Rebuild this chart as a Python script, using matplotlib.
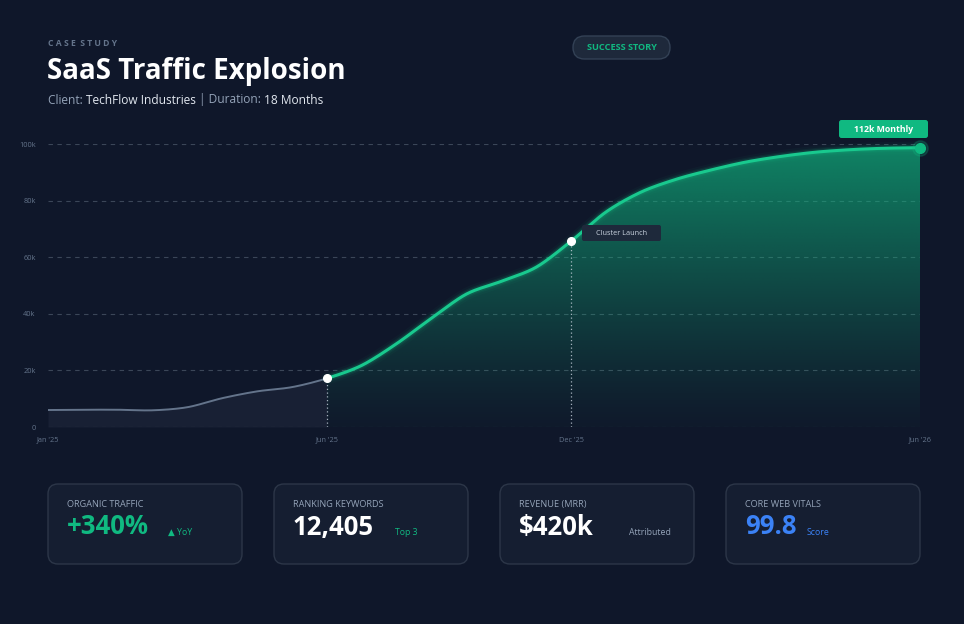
import numpy as np
import matplotlib
matplotlib.use("Agg")
import matplotlib.pyplot as plt
from matplotlib.patches import FancyBboxPatch, Polygon

plt.rcParams['font.family'] = ['Open Sans', 'DejaVu Sans']

# ---------------- data ----------------
# traffic (thousands of monthly visits) at evenly spaced points along the timeline
traffic_k = [6.0, 6.1, 6.1, 5.9, 7.0, 10.2, 12.6, 14.1, 17.2, 21.8, 29.5, 38.5,
             47.0, 51.5, 56.5, 65.7, 76.0, 83.0, 87.5, 90.8, 93.6, 95.6, 97.1,
             98.0, 98.5, 98.7]
launch_idx = 8          # start of campaign (Jun '25)
cluster_idx = 15        # "Cluster Launch" (Dec '25)
tick_pos = [0, 8, 15, 25]
tick_labels = ["Jan '25", "Jun '25", "Dec '25", "Jun '26"]
y_ticks = [0, 20, 40, 60, 80, 100]
y_tick_labels = ["0", "20k", "40k", "60k", "80k", "100k"]

card_labels = ["ORGANIC TRAFFIC", "RANKING KEYWORDS", "REVENUE (MRR)", "CORE WEB VITALS"]
card_values = ["+340%", "12,405", "$420k", "99.8"]
card_notes = ["▲ YoY", "Top 3", "Attributed", "Score"]

# ---------------- style ----------------
BG = "#0f172a"
GREEN = "#10b981"
W, H = 964, 624

fig = plt.figure(figsize=(W / 100, H / 100), dpi=100, facecolor=BG)

# chart axes (pixel box: x 48..920, y 144..427)
ax = fig.add_axes([48 / W, (H - 427) / H, (920 - 48) / W, (427 - 144) / H])
ax.set_facecolor("none")
n = len(traffic_k)
x = np.arange(n, dtype=float)
y = np.array(traffic_k)


def smooth(xs, ys, k=24, tension=0.45):
    # Catmull-Rom style rendering of the polyline (display smoothing only)
    px, py = [], []
    m = len(xs)
    for i in range(m - 1):
        p0 = (xs[max(i - 1, 0)], ys[max(i - 1, 0)])
        p1 = (xs[i], ys[i])
        p2 = (xs[i + 1], ys[i + 1])
        p3 = (xs[min(i + 2, m - 1)], ys[min(i + 2, m - 1)])
        m1 = ((p2[0] - p0[0]) * tension, (p2[1] - p0[1]) * tension)
        m2 = ((p3[0] - p1[0]) * tension, (p3[1] - p1[1]) * tension)
        t = np.linspace(0, 1, k, endpoint=(i == m - 2))
        h00 = 2 * t**3 - 3 * t**2 + 1
        h10 = t**3 - 2 * t**2 + t
        h01 = -2 * t**3 + 3 * t**2
        h11 = t**3 - t**2
        px.append(h00 * p1[0] + h10 * m1[0] + h01 * p2[0] + h11 * m2[0])
        py.append(h00 * p1[1] + h10 * m1[1] + h01 * p2[1] + h11 * m2[1])
    return np.concatenate(px), np.concatenate(py)


sx, sy = smooth(x, y)
mask = sx >= launch_idx - 1e-9
gx, gy = sx[mask], sy[mask]
bx, by = sx[~mask], sy[~mask]
bx = np.append(bx, gx[0]); by = np.append(by, gy[0])

# grid
for v in y_ticks:
    ax.axhline(v, color="#3b4658", lw=0.8, ls=(0, (4, 4)), zorder=0)

# gray area
ax.fill_between(bx, 0, by, color="#94a3b8", alpha=0.07, lw=0, zorder=1)
ax.plot(bx, by, color="#64748b", lw=1.4, zorder=3, solid_capstyle="round")

# green gradient area
poly = Polygon(np.column_stack([np.r_[gx, gx[-1], gx[0]], np.r_[gy, 0, 0]]),
               closed=True, facecolor="none", edgecolor="none")
ax.add_patch(poly)
grad = np.zeros((256, 2, 4))
tt = np.linspace(1, 0, 256)[:, None]
grad[..., 0] = 16 / 255
grad[..., 1] = 185 / 255
grad[..., 2] = 129 / 255
grad[..., 3] = (0.02 + 0.66 * tt ** 1.2)
im = ax.imshow(grad, extent=[launch_idx, n - 1, 0, 100], origin="upper",
               aspect="auto", zorder=1, interpolation="bilinear")
im.set_clip_path(poly)

# glow + line
for lw, a in [(9, 0.04), (6, 0.08), (4.2, 0.15)]:
    ax.plot(gx, gy, color=GREEN, lw=lw, alpha=a, zorder=3, solid_capstyle="round", clip_on=False)
ax.plot(gx, gy, color="#19c98e", lw=2.2, zorder=4, solid_capstyle="round", clip_on=False)

# vertical dotted markers
for i in (launch_idx, cluster_idx):
    ax.plot([x[i], x[i]], [0, y[i]], color="#cbd5e1", lw=0.9, ls=(0, (1, 2)), alpha=0.8, zorder=2)
    ax.plot(x[i], y[i], "o", ms=5.5, color="white", zorder=6, clip_on=False)
ax.plot(x[-1], y[-1], "o", ms=7, color=GREEN, zorder=6, clip_on=False)
ax.plot(x[-1], y[-1], "o", ms=11, color=GREEN, alpha=0.2, zorder=5, clip_on=False)

ax.set_xlim(0, n - 1)
ax.set_ylim(0, 100)
ax.set_yticks(y_ticks)
ax.set_yticklabels(y_tick_labels)
ax.set_xticks(tick_pos)
ax.set_xticklabels(tick_labels)
ax.tick_params(axis="both", length=0, colors="#64748b", labelsize=5.3)
ax.tick_params(axis="y", pad=9)
ax.tick_params(axis="x", pad=7)
for s in ax.spines.values():
    s.set_visible(False)

# ---------------- overlay (pixel coordinates) ----------------
ov = fig.add_axes([0, 0, 1, 1], facecolor="none")
ov.set_xlim(0, W)
ov.set_ylim(H, 0)
ov.axis("off")

ov.text(48, 43.5, "C A S E  S T U D Y", color="#64748b", fontsize=6.2,
        fontweight="bold", va="center", ha="left")
ov.text(47, 71, "SaaS Traffic Explosion", color="white", fontsize=20,
        fontweight="bold", va="center", ha="left")
# subtitle with mixed colours
SUB_FS = 8.6
t1 = ov.text(48, 100, "Client: ", color="#94a3b8", fontsize=SUB_FS, va="center", ha="left")
fig.canvas.draw()
r = fig.canvas.get_renderer()


def after(tobj, s, color, **kw):
    bb = tobj.get_window_extent(renderer=r)
    xd = ov.transData.inverted().transform((bb.x1, 0))[0]
    return ov.text(xd, 100, s, color=color, fontsize=SUB_FS, va="center", ha="left", **kw)


t2 = after(t1, "TechFlow Industries ", "#e2e8f0")
t3 = after(t2, "| Duration: ", "#94a3b8")
t4 = after(t3, "18 Months", "#e2e8f0")

# success pill
ov.add_patch(FancyBboxPatch((573, 36), 97, 23, boxstyle="round,pad=0,rounding_size=11.5",
                            facecolor="#1e293b", edgecolor="#334155", lw=1))
ov.text(621.5, 47.5, "SUCCESS STORY", color=GREEN, fontsize=6.6, fontweight="bold",
        ha="center", va="center")

# 112k Monthly
ov.add_patch(FancyBboxPatch((839, 120), 89, 18, boxstyle="round,pad=0,rounding_size=2.5",
                            facecolor=GREEN, edgecolor="none"))
ov.text(883.5, 129.5, "112k Monthly", color="white", fontsize=6.3, fontweight="bold",
        ha="center", va="center")

# Cluster Launch
ov.add_patch(FancyBboxPatch((582, 225), 79, 16, boxstyle="round,pad=0,rounding_size=2",
                            facecolor="#1e293b", edgecolor="none"))
ov.text(621.5, 233.5, "Cluster Launch", color="#cbd5e1", fontsize=5.2,
        ha="center", va="center")

# cards
card_x = [48, 274, 500, 726]
value_colors = [GREEN, "white", "white", "#3b82f6"]
note_colors = [GREEN, GREEN, "#94a3b8", "#3b82f6"]
note_dx = [101, 102, 110, 62]
for cx, lab, val, note, vc, nc, nd in zip(card_x, card_labels, card_values, card_notes,
                                           value_colors, note_colors, note_dx):
    ov.add_patch(FancyBboxPatch((cx, 484), 194, 80, boxstyle="round,pad=0,rounding_size=10",
                                facecolor="#151e31", edgecolor="#2c3648", lw=1))
    ov.text(cx + 19, 504.5, lab, color="#94a3b8", fontsize=6.6, ha="left", va="center")
    ov.text(cx + 19, 527, val, color=vc, fontsize=18.5, fontweight="bold", ha="left", va="center")
    ov.text(cx + 19 + nd, 532.5, note, color=nc, fontsize=6.3, ha="left", va="center",
            family=["Open Sans", "DejaVu Sans"])

fig.savefig("out.png", dpi=100, facecolor=BG)
